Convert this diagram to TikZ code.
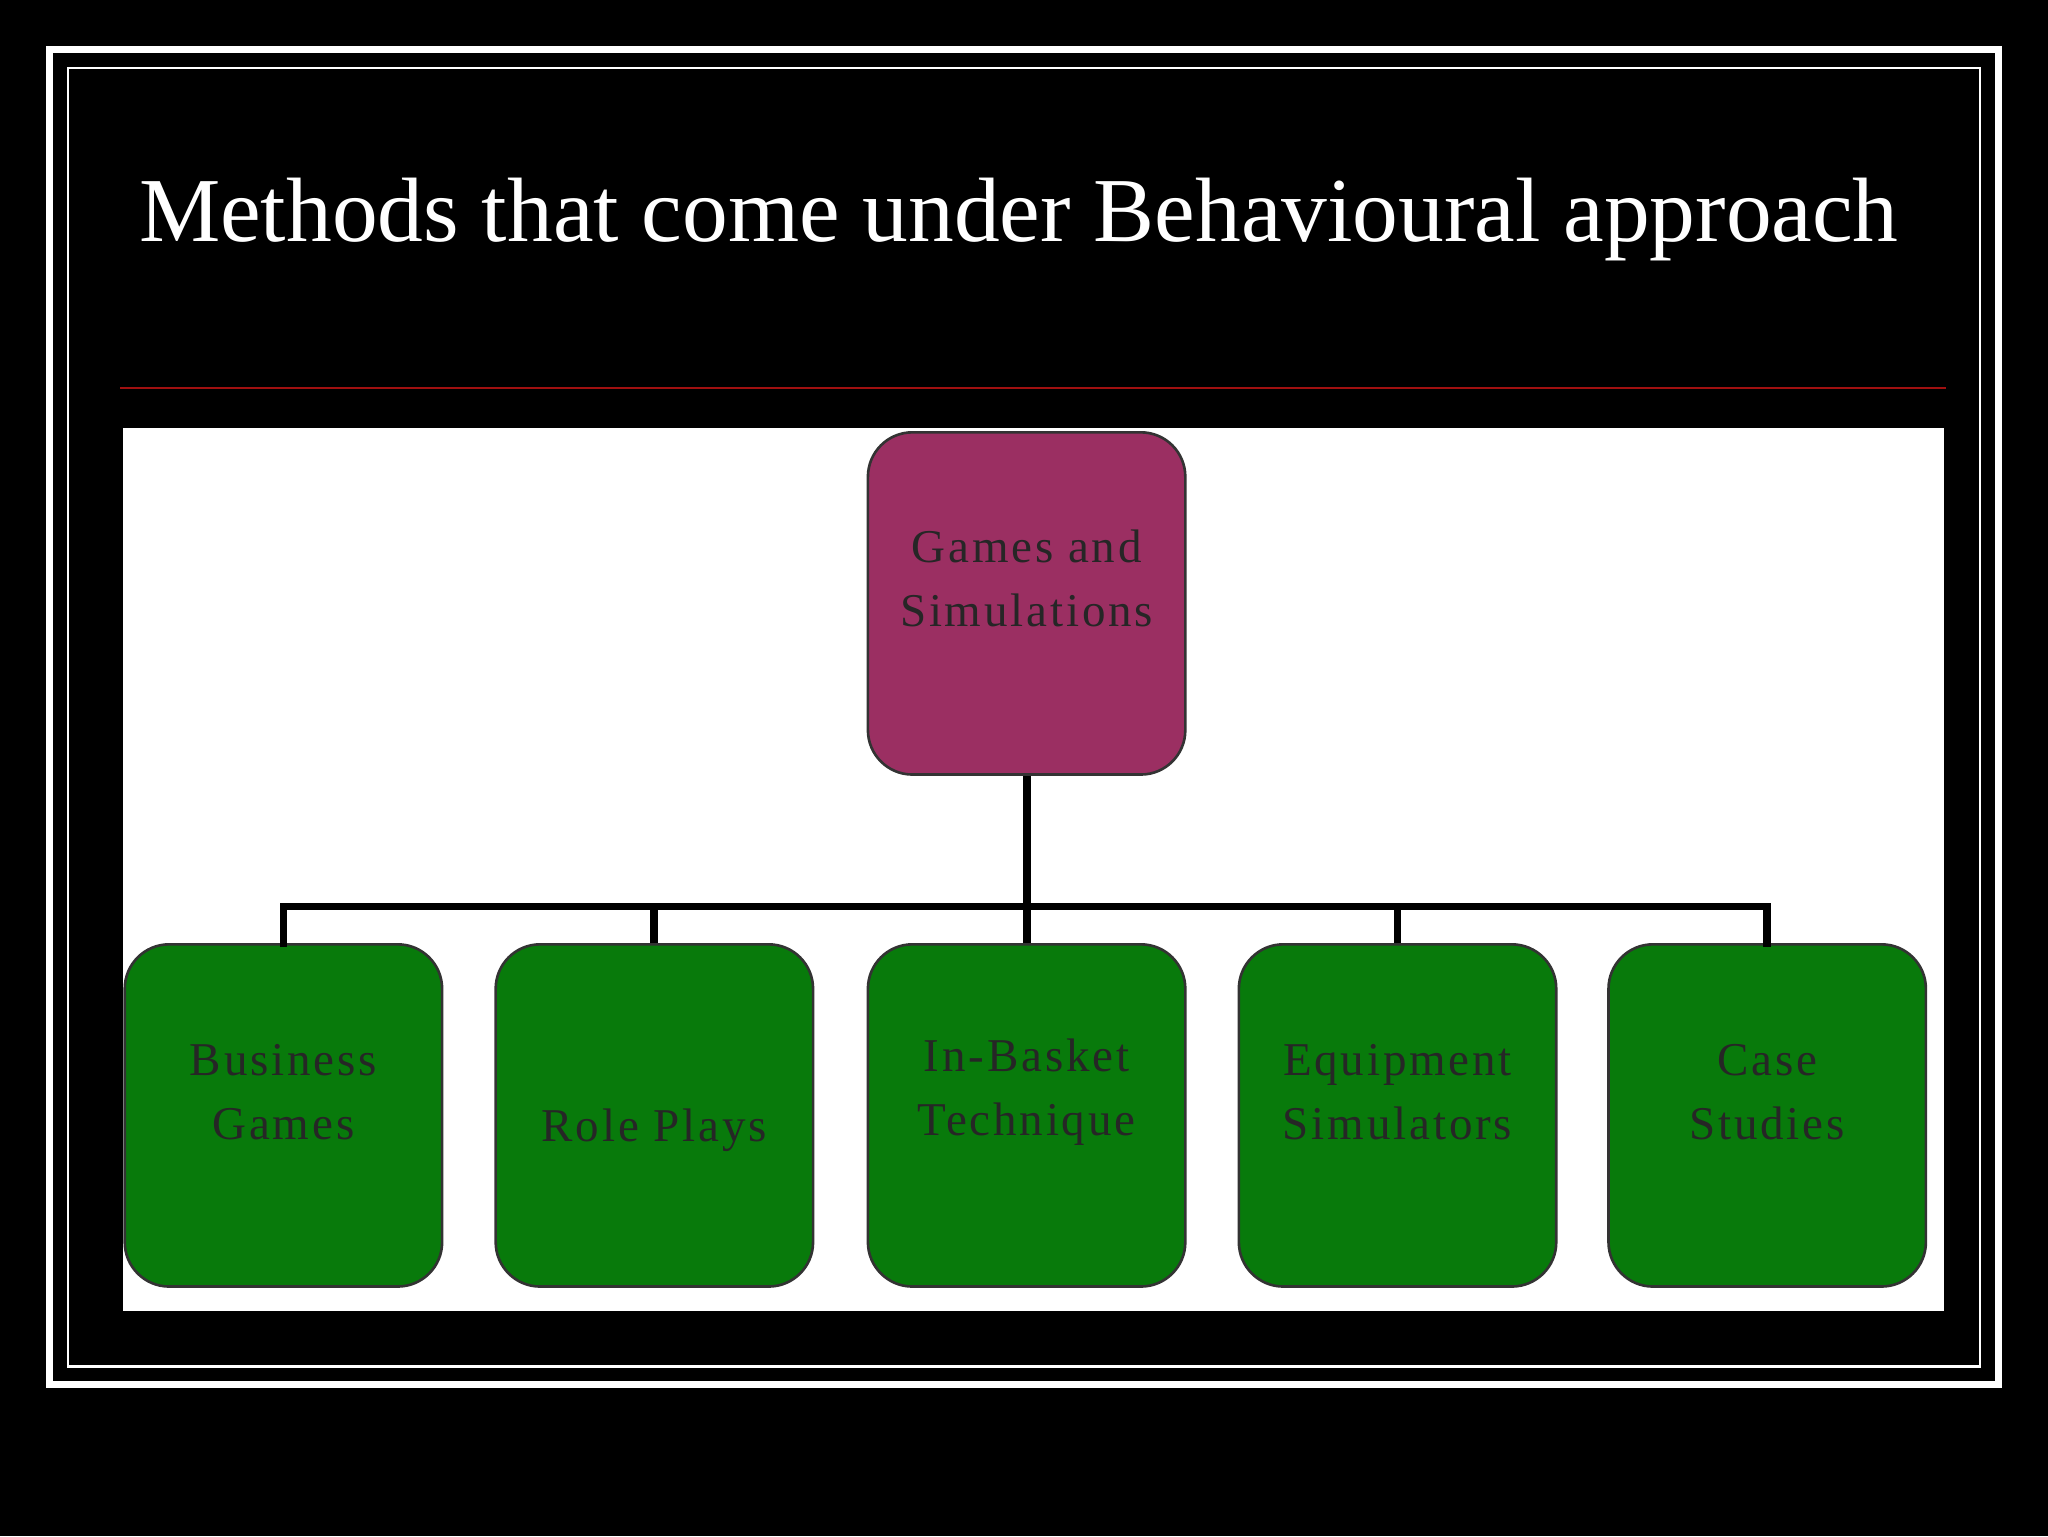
\documentclass[tikz,border=0pt]{standalone}
\usepackage{fontspec}
\setmainfont{Liberation Serif}
\newfontfamily\boxfont[LetterSpace=6]{Liberation Serif}
\definecolor{topc}{HTML}{9B2F62}
\definecolor{botc}{HTML}{087A0B}
\definecolor{redl}{HTML}{A01010}
\begin{document}
\begin{tikzpicture}[x=1pt,y=-1pt,
  boxb/.style={draw=black!80,line width=2pt,rounded corners=34pt,minimum width=243pt,minimum height=262pt,inner sep=0pt},
  lbl/.style={align=center,font=\boxfont\fontsize{36}{49}\selectfont,text=black!85},
  conn/.style={line width=6pt,black}]
\fill[black] (0,0) rectangle (1568,1176);
\useasboundingbox (0,0) rectangle (1568,1176);
\draw[white,line width=5pt] (38,38) rectangle (1530,1060);
\draw[white,line width=2pt] (52,52) rectangle (1516,1046);
\node[text=white,font=\fontsize{70}{80}\selectfont] (title) at (780,168) {Methods that come under Behavioural approach};
\coordinate (rl) at (92,297); \coordinate (rr) at (1490,297);
\draw[redl,line width=2pt] (rl) -- (rr);
\fill[white] (94,328) rectangle (1488,1004);
\node[boxb,fill=topc] (top) at (786,462) {};
\node[lbl] at (786,443) {Games and\\Simulations};
\foreach \n/\x/\t in {b1/217/{Business\\Games},b2/501/{\strut\\Role Plays},b3/786/{In-Basket\\Technique},b4/1070/{Equipment\\Simulators},b5/1353/{Case\\Studies}}{
  \node[boxb,fill=botc] (\n) at (\x,854) {};
  \node[lbl] at (\x,836) {\t};
}
\coordinate (j) at (786,694);
\draw[conn] (top.south) -- (j);
\draw[conn,line cap=rect] (b1.north) |- (j) -| (b5.north);
\foreach \n in {b2,b3,b4} \draw[conn] (\n.north) -- (\n.north |- j);
\end{tikzpicture}
\end{document}
